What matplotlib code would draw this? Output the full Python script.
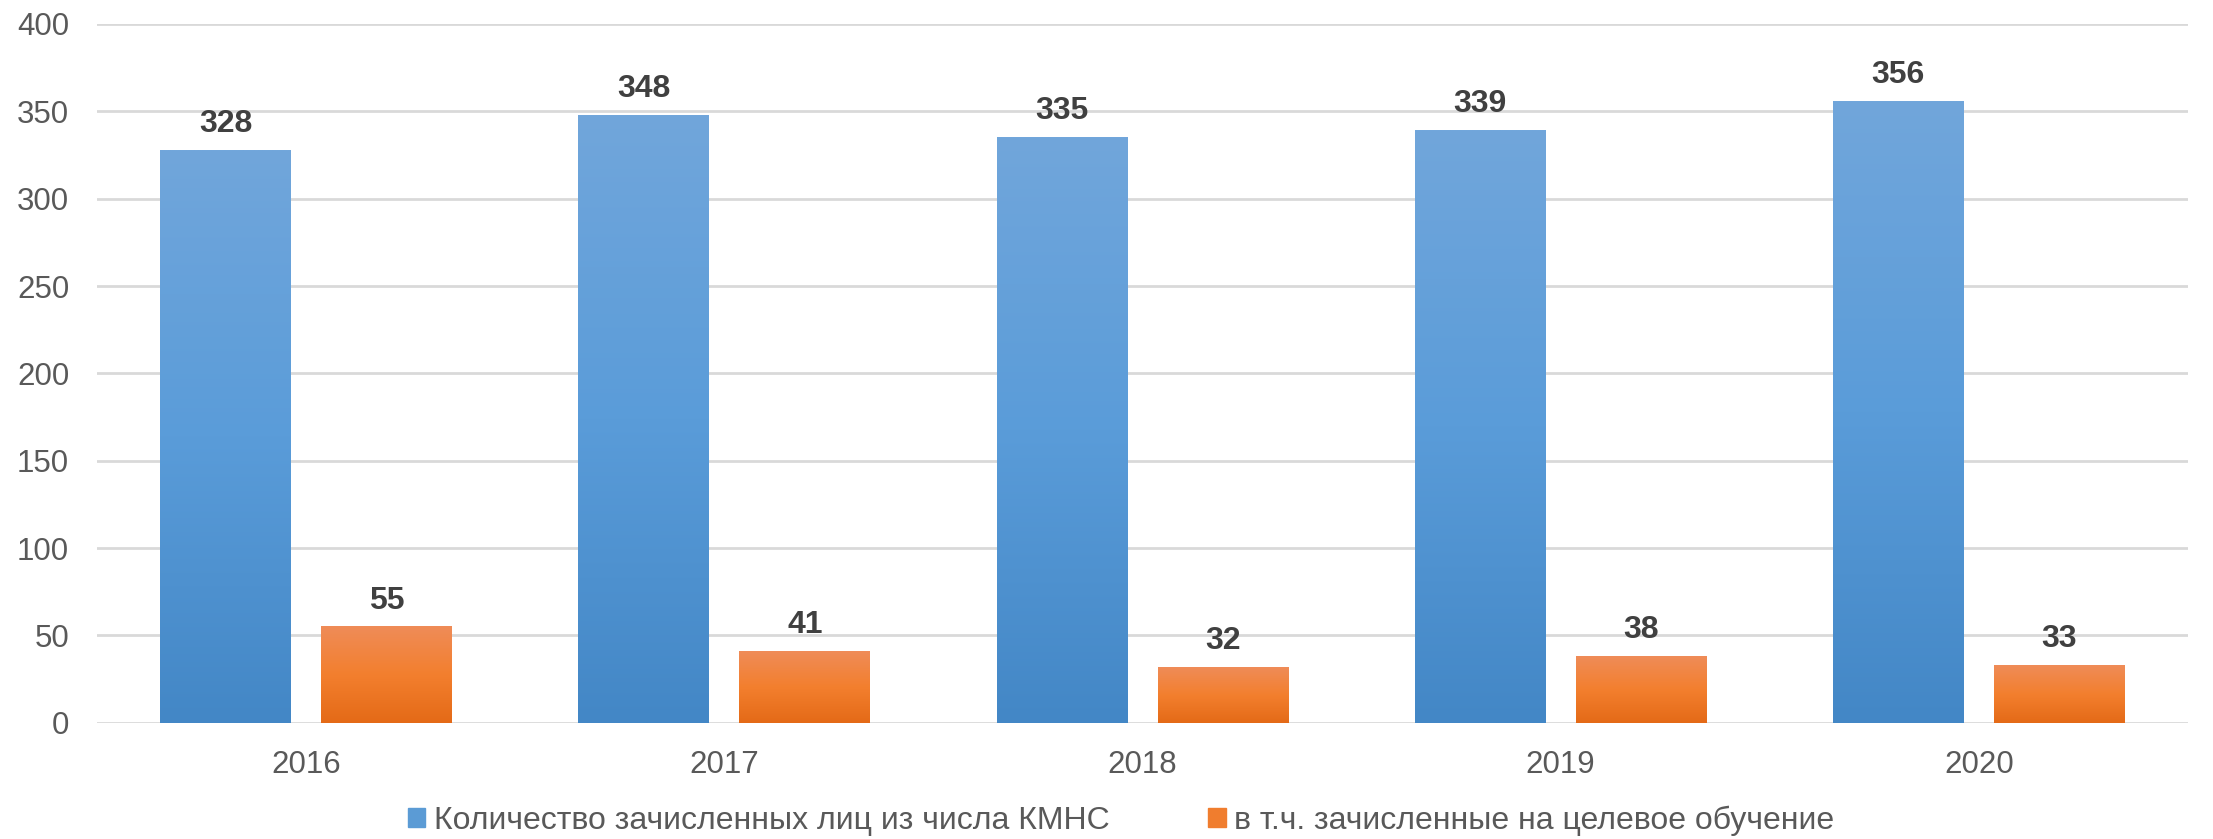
import matplotlib.pyplot as plt
import numpy as np
from matplotlib.colors import LinearSegmentedColormap
from matplotlib.patches import Patch

plt.rcParams['font.family'] = ['Liberation Sans', 'DejaVu Sans']

years = ['2016', '2017', '2018', '2019', '2020']
enrolled = [328, 348, 335, 339, 356]
targeted = [55, 41, 32, 38, 33]
series_names = ['Количество зачисленных лиц из числа КМНС',
                'в т.ч. зачисленные на целевое обучение']

blue_grad = LinearSegmentedColormap.from_list('b', ['#4387C6', '#5A9CD9', '#71A6DB'])
orange_grad = LinearSegmentedColormap.from_list('o', ['#E46A17', '#F37F2E', '#EF8C58'])

fig = plt.figure(figsize=(22.13, 8.39), dpi=100)
ax = fig.add_axes([0.0438, 0.1386, 0.9449, 0.8328])

x = np.arange(len(years))
w = 0.313
off = 0.1925
grad = np.linspace(0, 1, 256).reshape(-1, 1)

for vals, dx, cmap in [(enrolled, -off, blue_grad), (targeted, off, orange_grad)]:
    bars = ax.bar(x + dx, vals, w, color='none', zorder=3)
    for b, v in zip(bars, vals):
        x0 = b.get_x()
        ax.imshow(grad, cmap=cmap, origin='lower', aspect='auto',
                  extent=(x0, x0 + w, 0, v), zorder=3)
        ax.annotate(str(v), (b.get_x() + w / 2, v), xytext=(0, 8),
                    textcoords='offset points', ha='center', va='bottom',
                    fontsize=23, fontweight='bold', color='#404040', zorder=4)

ax.set_xlim(-0.5, len(years) - 0.5)
ax.set_ylim(0, 400)
ax.set_yticks(range(0, 401, 50))
ax.set_xticks(x)
ax.set_xticklabels(years)
ax.grid(axis='y', color='#D9D9D9', linewidth=2, zorder=0)
ax.set_axisbelow(True)
for s in ax.spines.values():
    s.set_visible(False)
ax.tick_params(axis='both', length=0, labelsize=22.5, labelcolor='#595959')
ax.tick_params(axis='y', pad=20)
ax.tick_params(axis='x', pad=20)

handles = [Patch(color='#5B9BD5'), Patch(color='#F07D2E')]
fig.legend(handles, series_names, loc='center', bbox_to_anchor=(0.5066, 0.0215),
           ncol=2, frameon=False, fontsize=23, labelcolor='#595959',
           handlelength=0.55, handleheight=0.55, handletextpad=0.26,
           columnspacing=3.1, borderpad=0)

fig.savefig('out.png', dpi=100)
